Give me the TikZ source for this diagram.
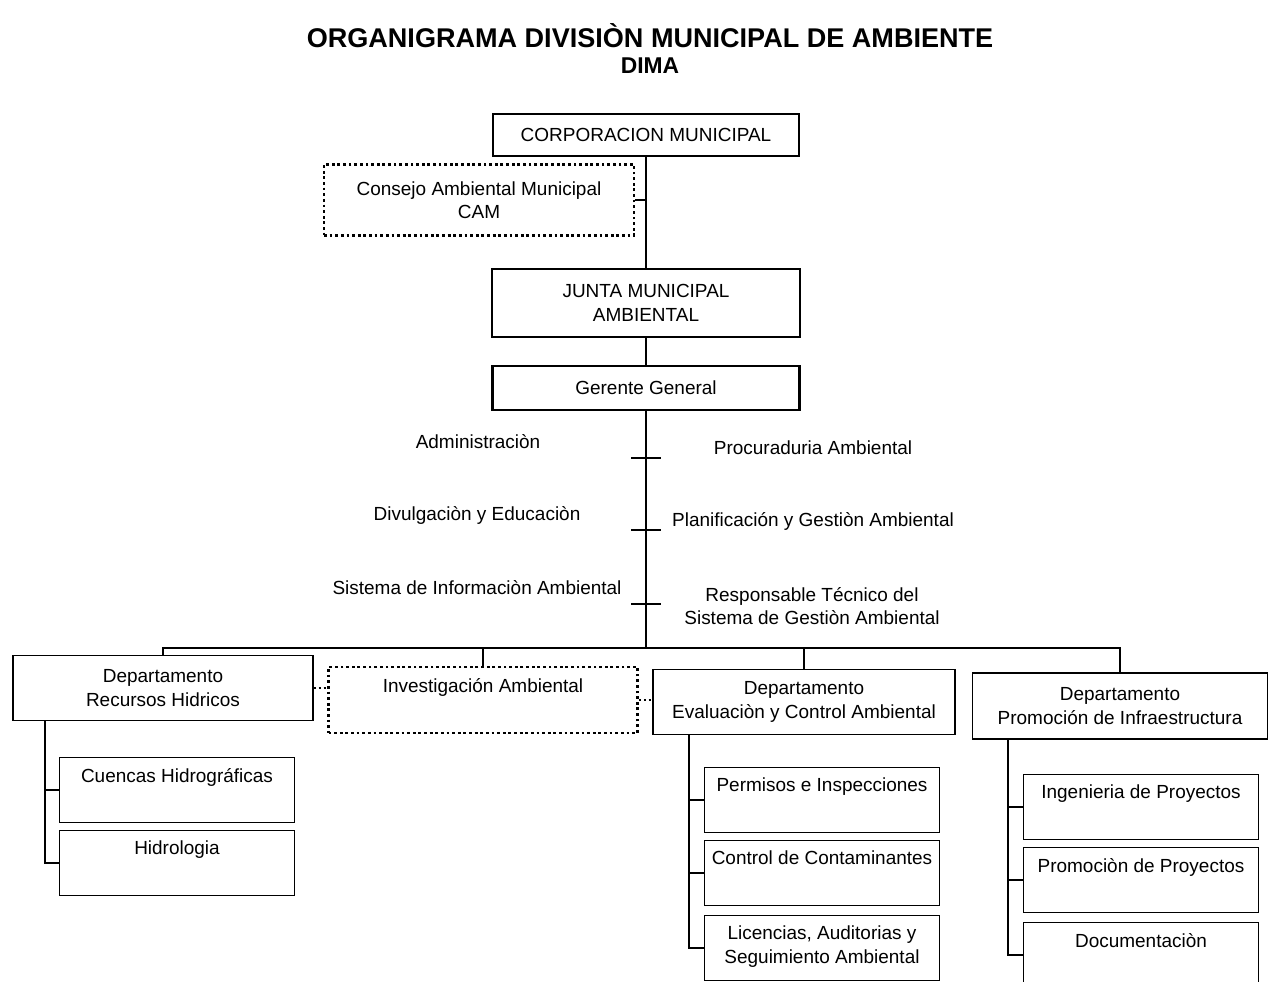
\documentclass[tikz,border=0pt]{standalone}
\usepackage{fontspec}
\setmainfont{Liberation Sans}

\tikzset{
	every node/.style={font=\fontsize{10.8}{13.3}\selectfont},
	topbox/.style={draw, line width=1.4pt, align=center, inner sep=0pt},
	deptbox/.style={draw, line width=0.9pt, align=center, inner sep=0pt},
	dotbox/.style={draw, line width=1.6pt, dash pattern=on 1.6pt off 1.6pt, align=center, inner sep=0pt},
	subbox/.style={draw, line width=0.9pt, minimum width=4.7cm, minimum height=1.3cm,
		label={[anchor=north, align=center, yshift=-3pt]north:#1}},
	staff/.style={align=center},
	link/.style={line width=0.9pt},
	dotlink/.style={line width=1.4pt, dash pattern=on 1.4pt off 1.4pt},
}

\begin{document}
\begin{tikzpicture}[x=0.02cm, y=-0.02cm]
			%%%%% START %%%%%
			\useasboundingbox (0, 0) rectangle (1270, 982);
			
			\node[font=\fontsize{15.4}{18}\selectfont\bfseries] (title) at (650, 36) {ORGANIGRAMA DIVISIÒN MUNICIPAL DE AMBIENTE};
			\node[font=\fontsize{13}{15}\selectfont\bfseries] (dima) at (650, 66) {DIMA};
			
			\node[topbox, minimum width=6.12cm, minimum height=0.84cm] (corp) at (646, 135) {CORPORACION MUNICIPAL};
			\node[dotbox, minimum width=6.2cm, minimum height=1.42cm] (cam) at (479, 200) {Consejo Ambiental Municipal\\CAM};
			\node[topbox, minimum width=6.16cm, minimum height=1.36cm] (junta) at (646, 303) {JUNTA MUNICIPAL\\AMBIENTAL};
			\node[topbox, minimum width=6.14cm, minimum height=0.88cm] (gerente) at (646, 388) {Gerente General};
			
			\draw[link] (corp.south) -- (junta.north);
			\draw[link] (cam.east) -- (cam.east -| corp.south);
			\draw[link] (junta.south) -- (gerente.north);
			
			% staff
			\node[staff] (admin) at (478, 442) {Administraciòn};
			\node[staff] (procu) at (813, 448) {Procuraduria Ambiental};
			\node[staff] (divul) at (477, 515) {Divulgaciòn y Educaciòn};
			\node[staff] (plani) at (813, 521) {Planificación y Gestiòn Ambiental};
			\node[staff] (sia) at (477, 588) {Sistema de Informaciòn Ambiental};
			\node[staff] (resp) at (812, 606) {Responsable Técnico del\\Sistema de Gestiòn Ambiental};
			
			\coordinate (t1) at (646, 458);
			\coordinate (t2) at (646, 530);
			\coordinate (t3) at (646, 604);
			\foreach \t in {t1, t2, t3}
				\draw[link] (\t) ++(-15, 0) -- ++(30, 0);
			
			% departamentos
			\node[deptbox, minimum width=6cm, minimum height=1.3cm] (recursos) at (163, 688) {Departamento\\Recursos Hidricos};
			\node[dotbox, minimum width=6.18cm, minimum height=1.32cm,
				label={[anchor=north, yshift=-4pt]north:Investigación Ambiental}] (invest) at (483, 700) {};
			\node[deptbox, minimum width=6.04cm, minimum height=1.3cm] (eval) at (804, 702) {Departamento\\Evaluaciòn y Control Ambiental};
			\node[deptbox, minimum width=5.9cm, minimum height=1.32cm] (promo) at (1120, 706) {Departamento\\Promoción de Infraestructura};
			
			\coordinate (bar) at (646, 648);
			\draw[link] (gerente.south) -- (bar);
			\draw[link] (recursos.north) |- (bar) -| (promo.north);
			\draw[link] (invest.north) -- (invest.north |- bar);
			\draw[link] (eval.north) -- (eval.north |- bar);
			
			\draw[dotlink] (recursos.east) -- (recursos.east -| invest.west);
			\draw[dotlink] (invest.east) -- (invest.east -| eval.west);
			
			% unidades
			\node[subbox=Cuencas Hidrográficas] (cuencas) at (177, 790) {};
			\node[subbox=Hidrologia] (hidro) at (177, 863) {};
			
			\node[subbox=Permisos e Inspecciones] (permisos) at (822, 800) {};
			\node[subbox=Control de Contaminantes] (control) at (822, 873) {};
			\node[subbox={Licencias, Auditorias y\\Seguimiento Ambiental}] (licencias) at (822, 948) {};
			
			\node[subbox=Ingenieria de Proyectos] (ingen) at (1141, 807) {};
			\node[subbox=Promociòn de Proyectos] (promproy) at (1141, 880) {};
			\node[subbox=Documentaciòn] (docu) at (1141, 955) {};
			
			\coordinate (rtrunk) at (45, 0);
			\coordinate (etrunk) at (689, 0);
			\coordinate (ptrunk) at (1008, 0);
			
			\draw[link] (rtrunk |- recursos.south) |- (hidro.west);
			\draw[link] (rtrunk |- cuencas.west) -- (cuencas.west);
			
			\draw[link] (etrunk |- eval.south) |- (licencias.west);
			\draw[link] (etrunk |- permisos.west) -- (permisos.west);
			\draw[link] (etrunk |- control.west) -- (control.west);
			
			\draw[link] (ptrunk |- promo.south) |- (docu.west);
			\draw[link] (ptrunk |- ingen.west) -- (ingen.west);
			\draw[link] (ptrunk |- promproy.west) -- (promproy.west);
			
			%%%%% END %%%%%
\end{tikzpicture}
\end{document}
